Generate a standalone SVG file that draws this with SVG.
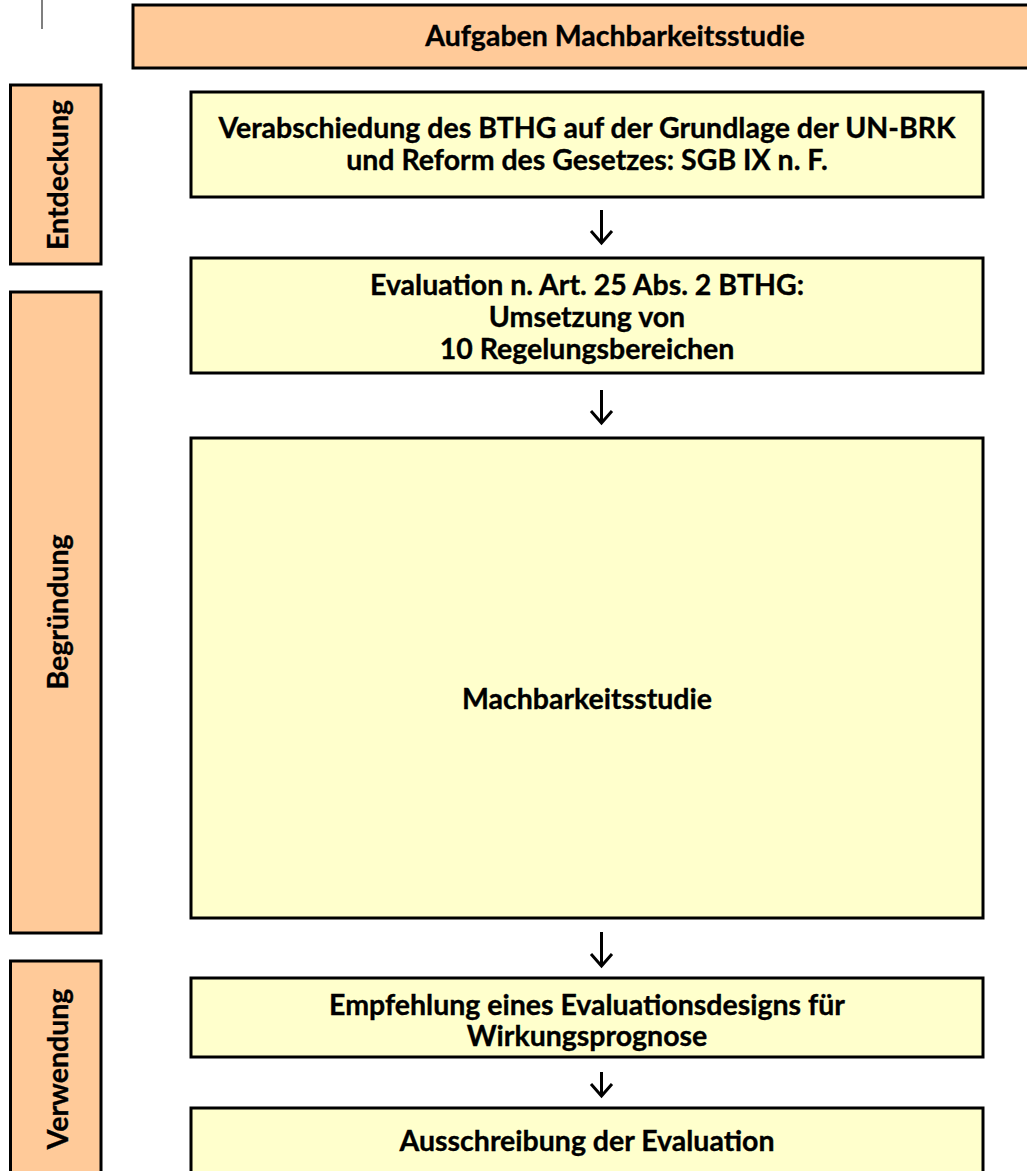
<svg xmlns="http://www.w3.org/2000/svg" width="1027" height="1171" viewBox="0 0 1027 1171">
<defs>
<style>
.hdr{fill:#FFCA99;stroke:#000;stroke-width:3}
.box{fill:#FFFFCC;stroke:#000;stroke-width:3}
.t{font-family:Lato,"Liberation Sans",sans-serif;font-weight:bold;font-size:28.5px;fill:#000;stroke:#000;stroke-width:0.35;text-anchor:middle}
.arr{fill:none;stroke:#000;stroke-width:3;stroke-linecap:butt;stroke-linejoin:miter}
</style>
</defs>
<rect width="1027" height="1171" fill="#fff"/>
<line x1="42" y1="0" x2="42" y2="29" stroke="#555" stroke-width="1.5"/>
<g id="header">
<rect class="hdr" x="133" y="5" width="970" height="63"/>
<text class="t" x="615" y="46">Aufgaben Machbarkeitsstudie</text>
</g>
<g id="side-entdeckung">
<rect class="hdr" x="10.5" y="85" width="90.5" height="179"/>
<text class="t" transform="translate(68,175) rotate(-90)">Entdeckung</text>
</g>
<g id="side-begruendung">
<rect class="hdr" x="10.5" y="292" width="90.5" height="641"/>
<text class="t" transform="translate(68,612) rotate(-90)">Begründung</text>
</g>
<g id="side-verwendung">
<rect class="hdr" x="10.5" y="961" width="90.5" height="240"/>
<text class="t" transform="translate(68,1069) rotate(-90)">Verwendung</text>
</g>
<g id="node-bthg">
<rect class="box" x="191" y="92" width="792" height="105"/>
<text class="t" x="587" y="138">Verabschiedung des BTHG auf der Grundlage der UN-BRK</text>
<text class="t" x="587" y="170">und Reform des Gesetzes: SGB IX n. F.</text>
</g>
<g id="node-evaluation">
<rect class="box" x="191" y="258" width="792" height="115"/>
<text class="t" x="587" y="295">Evaluation n. Art. 25 Abs. 2 BTHG:</text>
<text class="t" x="587" y="327">Umsetzung von</text>
<text class="t" x="587" y="359">10 Regelungsbereichen</text>
</g>
<g id="node-machbarkeitsstudie">
<rect class="box" x="191" y="438" width="792" height="480"/>
<text class="t" x="587" y="709">Machbarkeitsstudie</text>
</g>
<g id="node-empfehlung">
<rect class="box" x="191" y="978" width="792" height="79"/>
<text class="t" x="587" y="1015">Empfehlung eines Evaluationsdesigns für</text>
<text class="t" x="587" y="1046">Wirkungsprognose</text>
</g>
<g id="node-ausschreibung">
<rect class="box" x="191" y="1108" width="792" height="90"/>
<text class="t" x="587" y="1151">Ausschreibung der Evaluation</text>
</g>
<g id="connectors">
<path class="arr" d="M601.5 210 V243 M591 231 L601.5 243 L612 231"/>
<path class="arr" d="M601.5 390 V423 M591 411 L601.5 423 L612 411"/>
<path class="arr" d="M601.5 932 V966 M591 954 L601.5 966 L612 954"/>
<path class="arr" d="M601.5 1072 V1096 M591 1084 L601.5 1096 L612 1084"/>
</g>
</svg>
